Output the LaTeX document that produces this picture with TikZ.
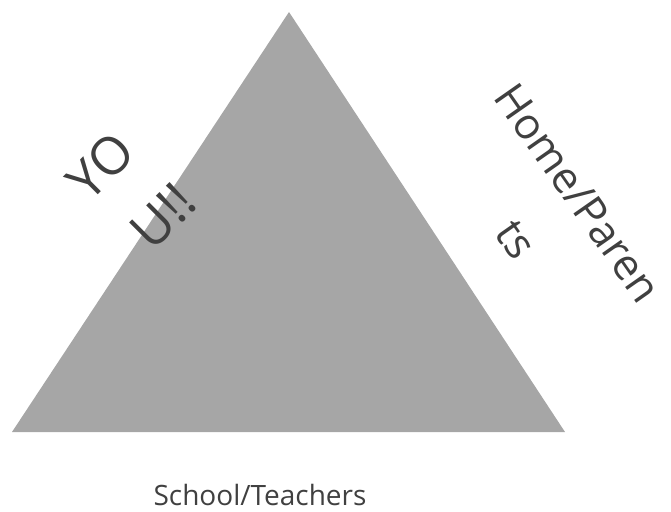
\documentclass[tikz,border=0pt]{standalone}
\usepackage{fontspec}
\setmainfont{Open Sans}
\definecolor{trigrey}{HTML}{A6A6A6}
\definecolor{txtgrey}{HTML}{404040}
\begin{document}
\begin{tikzpicture}[x=1pt,y=-1pt,
  lbl/.style={text=txtgrey,inner sep=0pt,font=\fontsize{#1}{#1}\selectfont},
  lbl/.default=28]
\useasboundingbox (0,0) rectangle (671,511);
\coordinate (top) at (289,12);
\coordinate (bl) at (12,432);
\coordinate (br) at (565,432);
\fill[trigrey] (bl) -- (top) -- (br) -- cycle;
\node[lbl=52,rotate=45] (you1) at (101,166) {YO};
\node[lbl=52,rotate=45] (you2) at (163,216) {U!!};
\node[lbl=43,rotate=-55] (home1) at (578,193) {Home/Paren};
\node[lbl=43,rotate=-55] (home2) at (515,240) {ts};
\node[lbl=28] (school) at (260,495) {School/Teachers};
\end{tikzpicture}
\end{document}
